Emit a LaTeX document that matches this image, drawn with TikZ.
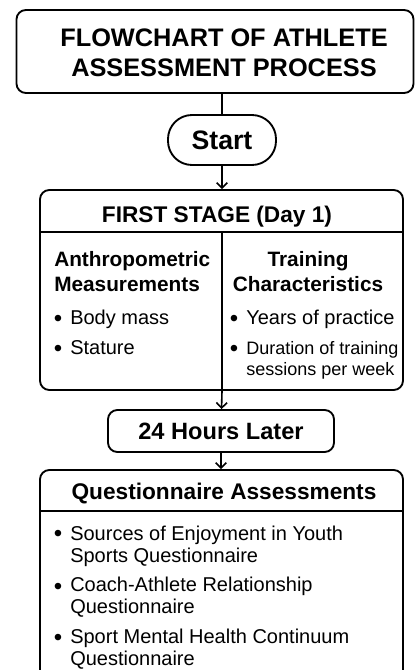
\documentclass[tikz,border=0pt]{standalone}
\usepackage{fontspec}
\setmainfont{Liberation Sans}
\usetikzlibrary{arrows.meta}
\tikzset{
  box/.style={draw, line width=1.4pt, rounded corners=7, inner sep=0pt},
  pill/.style={draw, line width=1.4pt, rounded corners=18pt, inner sep=0pt},
  flow/.style={line width=1.2pt, -{Straight Barb[length=4pt,width=8pt]}},
  head/.style={font=\bfseries\fontsize{17}{20}\selectfont, inner sep=0pt, anchor=base},
  sub/.style={font=\bfseries\fontsize{15.6}{18.75}\selectfont, inner sep=0pt},
  item/.style={font=\fontsize{15}{16.5}\selectfont, anchor=base west, inner sep=0pt, align=left},
  dot/.style={font=\fontsize{18}{18}\selectfont, anchor=base, inner sep=0pt}
}
\begin{document}
\begin{tikzpicture}[x=0.75pt,y=0.75pt,yscale=-1,xscale=1]
		\clip (0,0) rectangle (416,670);
		% title and start
		\node [box, minimum width=397*0.75pt, minimum height=83*0.75pt] (title) at (215,51.5) {};
		\node [font=\bfseries\fontsize{19}{22.5}\selectfont, align=center, inner sep=0pt, anchor=base] (titletext) at (224,77) {FLOWCHART OF ATHLETE\\ASSESSMENT PROCESS};
		\node [pill, minimum width=108*0.75pt, minimum height=50*0.75pt] (start) at (222,140) {};
		\node [font=\bfseries\fontsize{20}{24}\selectfont, inner sep=0pt, anchor=base] (starttext) at (222,150) {Start};
		% first stage
		\node [box, minimum width=363*0.75pt, minimum height=200*0.75pt] (stage) at (221.5,290) {};
		\node [head] (stagehead) at (217,223) {FIRST STAGE (Day 1)};
		\coordinate (sepl) at (40,232);
		\coordinate (sepr) at (403,232);
		\coordinate (midtop) at (222,232);
		\draw [line width=1.2pt] (sepl) -- (sepr);
		\draw [line width=1.2pt] (midtop) -- (midtop |- stage.south);
		\node [sub, anchor=base west, align=left] (anthro) at (54,291) {Anthropometric\\Measurements};
		\node [sub, anchor=base, align=center] (train) at (308,291) {Training\\Characteristics};
		\node [dot] (d1) at (58,326) {\textbullet};
		\node [item] (bm) at (70,324) {Body mass};
		\node [dot] (d2) at (58,356) {\textbullet};
		\node [item] (st) at (70,354) {Stature};
		\node [dot] (d3) at (234,326) {\textbullet};
		\node [item] (yp) at (246,324) {Years of practice};
		\node [dot] (d4) at (234,356) {\textbullet};
		\node [item, font=\fontsize{13.5}{15.75}\selectfont] (dur) at (246,375) {Duration of training\\sessions per week};
		% second stage
		\node [box, minimum width=226*0.75pt, minimum height=42*0.75pt] (later) at (221,431) {};
		\node [head, font=\bfseries\fontsize{17.7}{20}\selectfont] (latertext) at (221,439) {24 Hours Later};
		\node [box, minimum width=363*0.75pt, minimum height=230*0.75pt] (quest) at (221.5,585) {};
		\node [head] (questhead) at (224,499) {Questionnaire Assessments};
		\coordinate (qsepl) at (40,511);
		\coordinate (qsepr) at (403,511);
		\draw [line width=1.2pt] (qsepl) -- (qsepr);
		\foreach \ya/\yb/\txt [count=\i] in {541.5/562/{Sources of Enjoyment in Youth\\Sports Questionnaire},594.5/613/{Coach-Athlete Relationship\\Questionnaire},645.5/665/{Sport Mental Health Continuum\\Questionnaire}} {
			\node [dot] (qd\i) at (58,\ya) {\textbullet};
			\node [item] (q\i) at (70,\yb) {\txt};
		}
		% connectors
		\draw [line width=1.2pt] (title.south -| start.north) -- (start.north);
		\draw [flow] (start) -- (start |- stage.north);
		\draw [flow] (start |- stage.south) -- (later);
		\draw [flow] (later) -- (later |- quest.north);
\end{tikzpicture}
\end{document}
